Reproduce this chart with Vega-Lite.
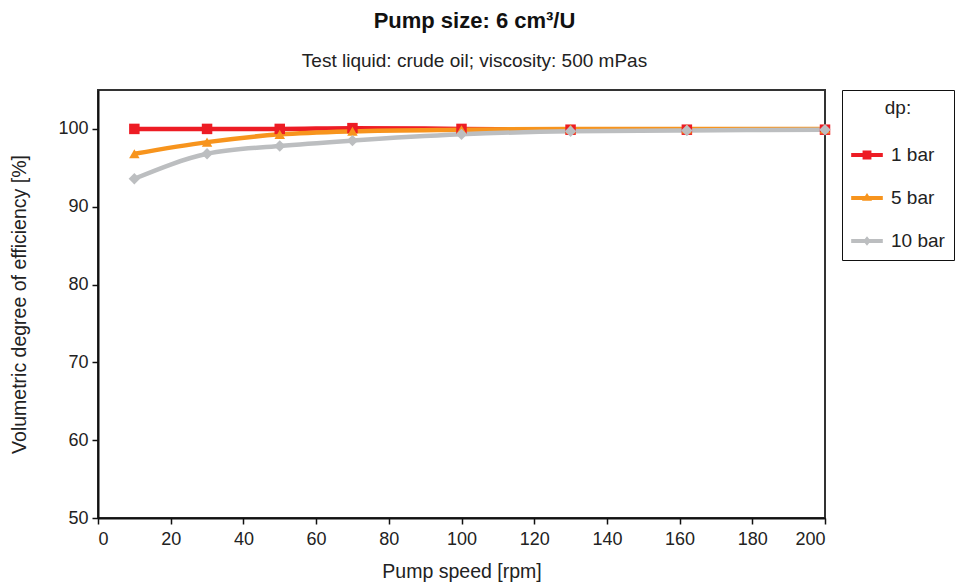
{
  "$schema": "https://vega.github.io/schema/vega-lite/v6.json",
  "width": 727,
  "height": 428,
  "autosize": {"type": "none"},
  "padding": {"left": 98, "top": 90, "right": 136, "bottom": 64},
  "background": "white",
  "title": {
    "text": "Pump size: 6 cm³/U",
    "subtitle": "Test liquid: crude oil; viscosity: 500 mPas",
    "anchor": "middle",
    "frame": "group",
    "dx": 13,
    "font": "Liberation Sans",
    "fontSize": 22,
    "fontWeight": "bold",
    "color": "#111",
    "subtitleFont": "Liberation Sans",
    "subtitleFontSize": 19,
    "subtitleColor": "#222",
    "subtitlePadding": 19,
    "offset": 18
  },
  "config": {
    "view": {"stroke": "#333", "strokeWidth": 2},
    "font": "Liberation Sans",
    "axis": {
      "labelFont": "Liberation Sans",
      "labelFontSize": 18,
      "labelColor": "#222",
      "titleFont": "Liberation Sans",
      "titleFontSize": 19.5,
      "titleFontWeight": "normal",
      "titleColor": "#222",
      "domainColor": "#111",
      "domainWidth": 2,
      "tickColor": "#111",
      "tickWidth": 1.5,
      "tickSize": 6,
      "grid": false
    },
    "legend": {
      "labelFont": "Liberation Sans",
      "titleFont": "Liberation Sans"
    }
  },
  "resolve": {"legend": {"color": "independent", "shape": "independent"}},
  "data": {
    "values": [
      {"speed": 10, "eff": 100.0, "series": "1 bar"},
      {"speed": 30, "eff": 100.0, "series": "1 bar"},
      {"speed": 50, "eff": 100.0, "series": "1 bar"},
      {"speed": 70, "eff": 100.1, "series": "1 bar"},
      {"speed": 100, "eff": 100.0, "series": "1 bar"},
      {"speed": 130, "eff": 99.9, "series": "1 bar"},
      {"speed": 162, "eff": 99.9, "series": "1 bar"},
      {"speed": 200, "eff": 99.9, "series": "1 bar"},
      {"speed": 10, "eff": 96.8, "series": "5 bar"},
      {"speed": 30, "eff": 98.3, "series": "5 bar"},
      {"speed": 50, "eff": 99.3, "series": "5 bar"},
      {"speed": 70, "eff": 99.7, "series": "5 bar"},
      {"speed": 100, "eff": 99.9, "series": "5 bar"},
      {"speed": 130, "eff": 100.0, "series": "5 bar"},
      {"speed": 162, "eff": 100.0, "series": "5 bar"},
      {"speed": 200, "eff": 100.0, "series": "5 bar"},
      {"speed": 10, "eff": 93.6, "series": "10 bar"},
      {"speed": 30, "eff": 96.8, "series": "10 bar"},
      {"speed": 50, "eff": 97.8, "series": "10 bar"},
      {"speed": 70, "eff": 98.5, "series": "10 bar"},
      {"speed": 100, "eff": 99.3, "series": "10 bar"},
      {"speed": 130, "eff": 99.7, "series": "10 bar"},
      {"speed": 162, "eff": 99.8, "series": "10 bar"},
      {"speed": 200, "eff": 99.9, "series": "10 bar"}
    ]
  },
  "encoding": {
    "x": {
      "field": "speed",
      "type": "quantitative",
      "scale": {"domain": [0, 200], "nice": false, "zero": false},
      "axis": {"values": [0, 20, 40, 60, 80, 100, 120, 140, 160, 180, 200], "title": "Pump speed [rpm]", "titlePadding": 14, "labelPadding": 6}
    },
    "y": {
      "field": "eff",
      "type": "quantitative",
      "scale": {"domain": [50, 105], "nice": false, "zero": false},
      "axis": {"values": [50, 60, 70, 80, 90, 100], "title": "Volumetric degree of efficiency [%]", "titlePadding": 28, "labelPadding": 4}
    }
  },
  "layer": [
    {
      "mark": {"type": "line", "strokeWidth": 4.5, "interpolate": "monotone"},
      "encoding": {
        "order": {"field": "speed"},
        "color": {"field": "series", "type": "nominal", "scale": {"domain": ["1 bar", "5 bar", "10 bar"], "range": ["#ed1c24", "#f7941d", "#bcbec0"]}, "legend": null}
      }
    },
    {
      "transform": [{"filter": "datum.series === '1 bar'"}],
      "mark": {"type": "point", "filled": true, "opacity": 1, "shape": "square", "size": 110},
      "encoding": {"color": {"field": "series", "type": "nominal", "legend": null}}
    },
    {
      "transform": [{"filter": "datum.series === '5 bar'"}],
      "mark": {"type": "point", "filled": true, "opacity": 1, "shape": "triangle-up", "size": 110},
      "encoding": {"color": {"field": "series", "type": "nominal", "legend": null}}
    },
    {
      "transform": [{"filter": "datum.series === '10 bar'"}],
      "mark": {"type": "point", "filled": true, "opacity": 1, "shape": "diamond", "size": 130},
      "encoding": {"color": {"field": "series", "type": "nominal", "legend": null}}
    },
    {
      "mark": {"type": "point", "filled": true, "opacity": 0},
      "encoding": {
        "color": {
          "field": "series",
          "type": "nominal",
          "title": "dp:",
          "legend": {
            "orient": "right",
            "offset": 8,
            "title": "dp:",
            "titleFontSize": 19,
            "titleFontWeight": "normal",
            "titleColor": "#222",
            "titleAnchor": "middle",
            "titlePadding": 21,
            "labelFontSize": 19,
            "labelColor": "#222",
            "labelOffset": 8,
            "rowPadding": 17,
            "symbolSize": 1000,
            "symbolOpacity": 1,
            "symbolStrokeWidth": 0,
            "strokeColor": "#111",
            "padding": 9,
            "encode": {"symbols": {"update": {"opacity": {"value": 1}, "fillOpacity": {"value": 1}}}}
          }
        },
        "shape": {
          "field": "series",
          "type": "nominal",
          "title": "dp:",
          "scale": {
            "domain": ["1 bar", "5 bar", "10 bar"],
            "range": [
              "M-1,-0.12H1V0.12H-1Z M-0.28,-0.28H0.28V0.28H-0.28Z",
              "M-1,-0.12H1V0.12H-1Z M0,-0.32L0.32,0.17H-0.32Z",
              "M-1,-0.12H1V0.12H-1Z M0,-0.3L0.24,0L0,0.3L-0.24,0Z"
            ]
          }
        }
      }
    }
  ]
}
